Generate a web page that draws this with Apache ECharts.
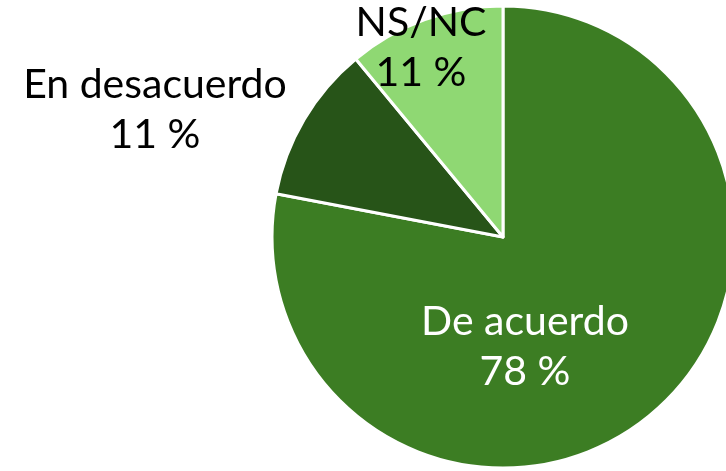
<!DOCTYPE html>
<html>
<head>
<meta charset="utf-8">
<script src="https://cdn.jsdelivr.net/npm/echarts@6/dist/echarts.min.js"></script>
<style>
    html, body { margin: 0; padding: 0; background: #fff; }
    #pie_chart { width: 726px; height: 471px; }
</style>
</head>
<body>
<div id="pie_chart"></div>
<script>
// Data
var categories = ['De acuerdo', 'En desacuerdo', 'NS/NC'];
var percentages = [78, 11, 11];
var sliceColors = ['#3c7d23', '#275418', '#8fd873'];
var labelColors = ['#ffffff', '#000000', '#000000'];

// Label anchors (pixel centres of each label block)
var labelAnchors = [[525, 347], [155, 110], [421, 48]];

document.addEventListener('DOMContentLoaded', function() {
    var el = document.getElementById('pie_chart');
    var chart = echarts.init(el);

    var pieData = categories.map(function(name, i) {
        return {
            name: name,
            value: percentages[i],
            itemStyle: { color: sliceColors[i] },
            label: { color: labelColors[i] }
        };
    });

    chart.setOption({
        animation: false,
        textStyle: { fontFamily: 'Lato, sans-serif' },
        series: [{
            type: 'pie',
            center: [503, 237],
            radius: 231,
            startAngle: 90,
            clockwise: true,
            itemStyle: {
                borderColor: '#ffffff',
                borderWidth: 3
            },
            label: {
                show: true,
                position: 'inside',
                fontFamily: 'Lato, sans-serif',
                fontSize: 41,
                lineHeight: 50,
                align: 'center',
                verticalAlign: 'middle',
                formatter: function(p) {
                    return p.name + '\n' + p.value + ' %';
                }
            },
            labelLine: { show: false },
            labelLayout: function(params) {
                var a = labelAnchors[params.dataIndex];
                return { x: a[0], y: a[1], align: 'center', verticalAlign: 'middle' };
            },
            emphasis: { disabled: true },
            data: pieData
        }]
    });
});
</script>
</body>
</html>
